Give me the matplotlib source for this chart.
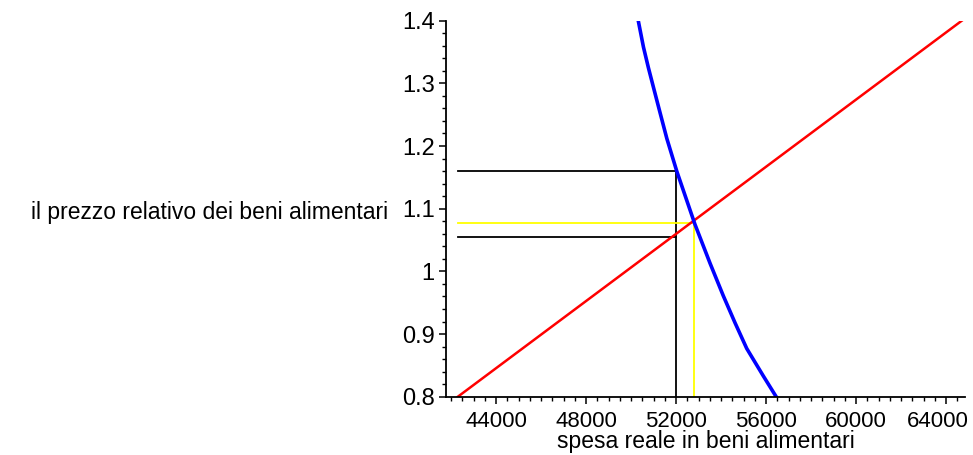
import matplotlib.pyplot as plt
from matplotlib.ticker import MultipleLocator
from matplotlib.transforms import ScaledTranslation

plt.rcParams['font.family'] = ['Liberation Sans', 'DejaVu Sans']

# offerta (rossa)
red_x = [42300, 64700]
red_y = [0.8, 1.4]

# domanda (blu)
blue_x = [50320, 50550, 50770, 51000, 51290, 51590, 52030, 52840,
          53510, 54100, 54620, 55140, 55880, 56450]
blue_y = [1.400, 1.358, 1.325, 1.293, 1.253, 1.212, 1.160, 1.075,
          1.013, 0.961, 0.918, 0.877, 0.833, 0.800]

# linee di riferimento
x_start = 42300
black_x = 52000
black_y = [1.16, 1.0553]
yellow_x = 52800
yellow_y = 1.0767

yticks = [0.8, 0.9, 1.0, 1.1, 1.2, 1.3, 1.4]
ytick_labels = ['0.8', '0.9', '1', '1.1', '1.2', '1.3', '1.4']
xticks = [44000, 48000, 52000, 56000, 60000, 64000]

fig = plt.figure(figsize=(9.73, 4.55), dpi=100)
ax = fig.add_axes([0.458, 0.128, 0.534, 0.8266])

for yy in black_y:
    ax.plot([x_start, black_x], [yy, yy], color='black', lw=1.3)
ax.plot([black_x, black_x], [0.8, max(black_y)], color='black', lw=1.3)
ax.plot([x_start, yellow_x], [yellow_y, yellow_y], color='#ffff00', lw=1.3)
ax.plot([yellow_x, yellow_x], [0.8, yellow_y], color='#ffff00', lw=1.3)

ax.plot(red_x, red_y, color='#ff0000', lw=1.8)
ax.plot(blue_x, blue_y, color='#0000ff', lw=2.6)

ax.set_xlim(41760, 64850)
ax.set_ylim(0.8, 1.4)
ax.spines['top'].set_visible(False)
ax.spines['right'].set_visible(False)
ax.spines['left'].set_linewidth(1.3)
ax.spines['bottom'].set_linewidth(1.3)

ax.set_yticks(yticks)
ax.set_yticklabels(ytick_labels, fontsize=17)
ax.set_xticks(xticks)
ax.set_xticklabels([str(v) for v in xticks], fontsize=16)
ax.xaxis.set_minor_locator(MultipleLocator(500))
ax.yaxis.set_minor_locator(MultipleLocator(0.02))
ax.tick_params(which='major', length=5, width=1.1, direction='out')
ax.tick_params(which='minor', length=3, width=1.0, direction='out')
ax.tick_params(axis='x', pad=5)
ax.tick_params(axis='y', pad=3)

# keep the last x label inside the figure
last = ax.get_xticklabels()[-1]
last.set_transform(last.get_transform() + ScaledTranslation(-6 / 72, 0, fig.dpi_scale_trans))

ax.set_xlabel('spesa reale in beni alimentari', fontsize=16.5, labelpad=-1)
fig.text(388 / 973, 1 - 212 / 455, 'il prezzo relativo dei beni alimentari',
         fontsize=16.5, ha='right', va='center')

fig.savefig('out.png', dpi=100)
